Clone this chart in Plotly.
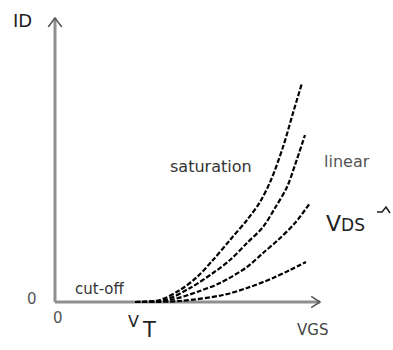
import plotly.graph_objects as go

# Curve data (VGS in arbitrary units, VT = 2; ID arbitrary units)
vgs_1 = [2.0, 2.625, 3.125, 3.55, 3.95, 4.375, 4.8, 5.125, 5.4, 5.7, 5.95, 6.175]
id_1 = [0, 0.1, 0.6, 1.25, 2.1, 3.1, 4.1, 5.0, 6.1, 7.75, 9.45, 10.95]

vgs_2 = [2.0, 2.75, 3.375, 3.95, 4.375, 4.8, 5.2, 5.5, 5.8, 6.0, 6.25]
id_2 = [0, 0.1, 0.7, 1.45, 2.1, 2.95, 3.75, 4.7, 5.75, 6.85, 8.35]

vgs_3 = [2.0, 2.875, 3.55, 4.125, 4.8, 5.2, 5.575, 6.0, 6.375]
id_3 = [0, 0.1, 0.5, 0.95, 1.75, 2.45, 3.1, 3.95, 4.95]

vgs_4 = [2.0, 3.125, 4.2, 4.8, 5.45, 5.875, 6.275]
id_4 = [0, 0.05, 0.35, 0.7, 1.2, 1.6, 2.0]

curves = [(vgs_1, id_1), (vgs_2, id_2), (vgs_3, id_3), (vgs_4, id_4)]

X_END = 6.625
Y_END = 14.2

fig = go.Figure()

# page-pixel -> data mapping
def px(xp): return (xp - 55) / 40
def py(yp): return (302 - yp) / 20

axis_col = "#8f8f8f"
fig.add_trace(go.Scatter(x=[0, 0], y=[0, Y_END], mode="lines",
                         line=dict(color=axis_col, width=3), hoverinfo="skip"))
fig.add_trace(go.Scatter(x=[0, X_END], y=[0, 0], mode="lines",
                         line=dict(color=axis_col, width=3), hoverinfo="skip"))
fig.add_trace(go.Scatter(x=[-0.17, 0, 0.17], y=[Y_END - 0.45, Y_END, Y_END - 0.45], mode="lines",
                         line=dict(color="#555", width=1.5), hoverinfo="skip"))
fig.add_trace(go.Scatter(x=[X_END - 0.22, X_END, X_END - 0.22], y=[0.28, 0, -0.28], mode="lines",
                         line=dict(color="#555", width=1.5), hoverinfo="skip"))
# small "increasing" caret next to VDS
fig.add_trace(go.Scatter(x=[px(377), px(382), px(386), px(390)],
                         y=[py(212), py(212), py(207), py(213)], mode="lines",
                         line=dict(color="#222", width=1.6), hoverinfo="skip"))

for vx, iy in curves:
    fig.add_trace(go.Scatter(x=vx, y=iy, mode="lines",
                             line=dict(color="black", width=2.2, dash="5px,2px", shape="spline", smoothing=0.9),
                             hoverinfo="skip"))

FAM = "DejaVu Sans, Verdana, sans-serif"
def txt(x, y, s, size=12, color="#333"):
    fig.add_annotation(x=x, y=y, text=s, showarrow=False, xref="x", yref="y",
                       font=dict(family=FAM, size=size, color=color))

txt(px(22), py(20), "ID", 18, "#222")
txt(px(32), py(299), "0", 15, "#555")
txt(px(58), py(318), "0", 15, "#555")
txt(px(100), py(289), "cut-off", 15, "#333")
txt(px(133), py(321), "V", 16, "#222")
txt(px(149), py(330), "T", 21, "#222")
txt(px(312), py(330), "VGS", 15, "#444")
txt(px(211), py(166), "saturation", 16, "#333")
txt(px(347), py(161), "linear", 16, "#555")
txt(px(345), py(223), "V<span style='font-size:17px'>DS</span>", 22, "#222")

W, H, OFF = 393, 350, 0
fig.update_layout(
    width=W, height=H,
    margin=dict(l=0, r=0, t=0, b=0),
    paper_bgcolor="white", plot_bgcolor="white",
    showlegend=False,
    xaxis=dict(range=[px(OFF), px(OFF + W)], visible=False, fixedrange=True),
    yaxis=dict(range=[py(OFF + H), py(OFF)], visible=False, fixedrange=True),
)

fig.write_html("out.html",
               config={"displayModeBar": False, "staticPlot": True},
               post_script="document.body.style.margin='0';document.body.style.overflow='hidden';")
